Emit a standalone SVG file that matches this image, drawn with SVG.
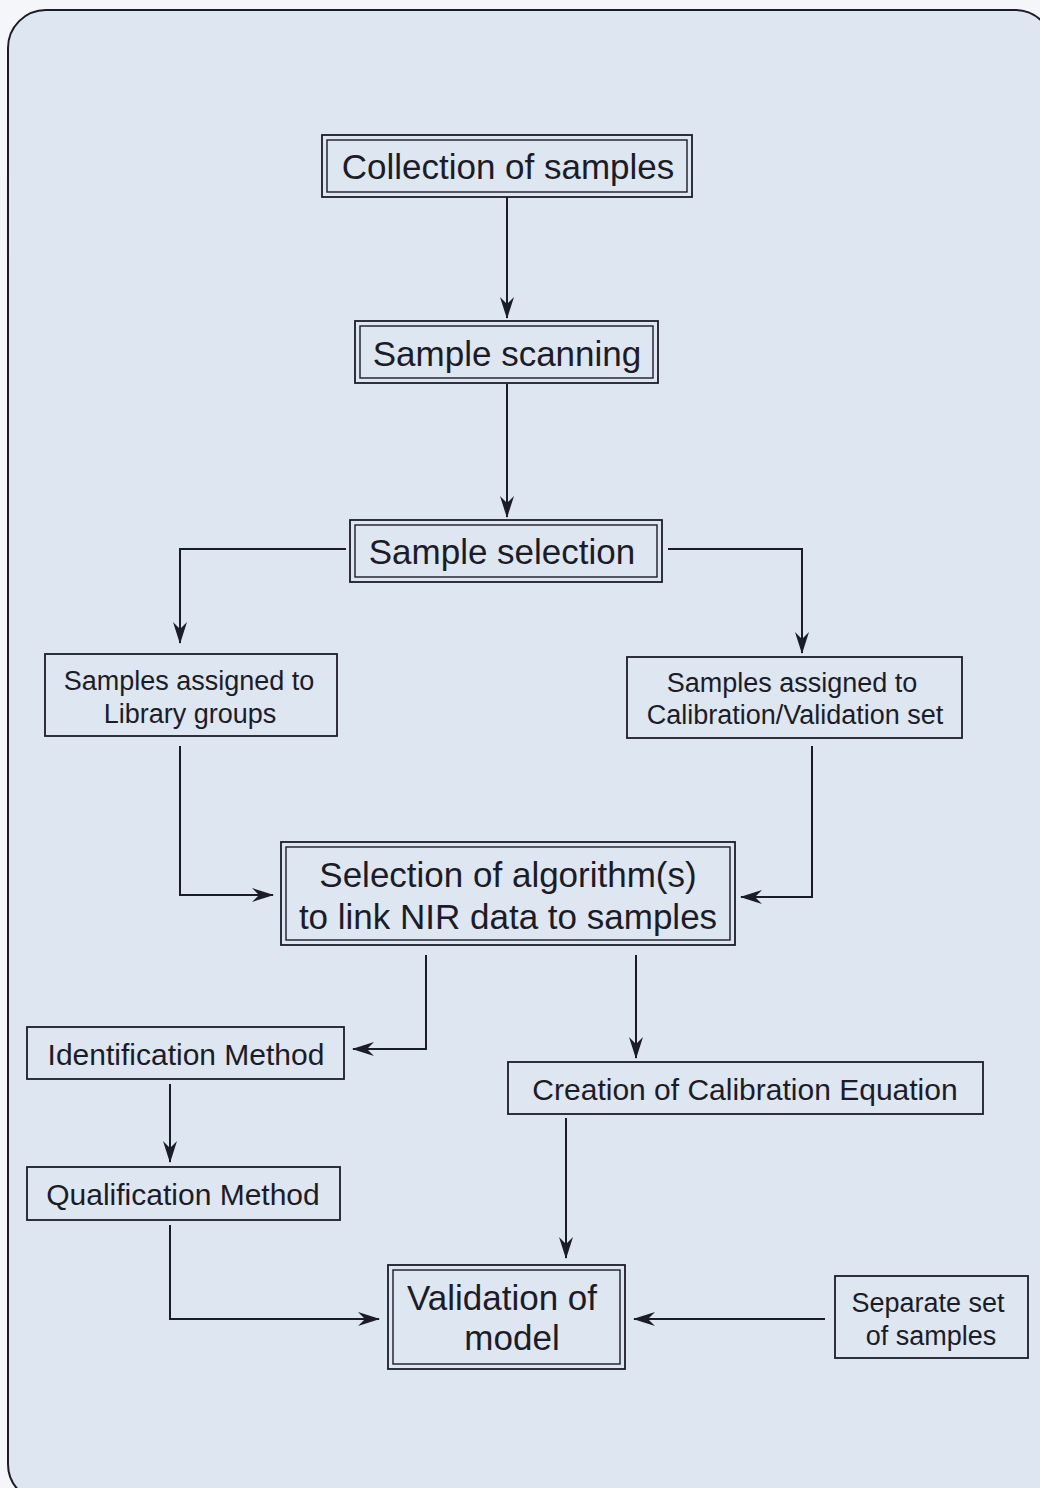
<svg xmlns="http://www.w3.org/2000/svg" width="1040" height="1488" viewBox="0 0 1040 1488">
<style>
.big{font-family:"Liberation Sans",Arial,sans-serif;font-size:35px;fill:#1c1c28;text-anchor:middle}
.mid{font-family:"Liberation Sans",Arial,sans-serif;font-size:30px;fill:#1c1c28;text-anchor:middle}
.sm{font-family:"Liberation Sans",Arial,sans-serif;font-size:27px;fill:#1c1c28;text-anchor:middle}
.box{fill:none;stroke:#1c1c28;stroke-width:1.8}
.in{fill:none;stroke:#1c1c28;stroke-width:1.4}
.con{fill:none;stroke:#1c1c28;stroke-width:2;marker-end:url(#ah)}
</style>
<defs>
<marker id="ah" viewBox="0 0 22 14" refX="21" refY="7" markerWidth="22" markerHeight="14" markerUnits="userSpaceOnUse" orient="auto">
<path d="M0,0 L22,7 L0,14 L7,7 z" fill="#1c1c28"/>
</marker>
</defs>
<rect width="1040" height="1488" fill="#f4f6f9"/>
<rect x="8" y="10" width="1045" height="1492" rx="38" fill="#dde6f1" stroke="#1c1c28" stroke-width="2"/>
<g id="connectors">
<path class="con" d="M507,197 V318"/>
<path class="con" d="M507,384 V517"/>
<path class="con" d="M346,549 H180 V643"/>
<path class="con" d="M668,549 H802 V653"/>
<path class="con" d="M180,746 V895 H273"/>
<path class="con" d="M812,746 V897 H741"/>
<path class="con" d="M426,955 V1049 H353"/>
<path class="con" d="M636,955 V1058"/>
<path class="con" d="M170,1084 V1162"/>
<path class="con" d="M566,1118 V1258"/>
<path class="con" d="M170,1225 V1319 H379"/>
<path class="con" d="M825,1319 H634"/>
</g>
<g id="n1">
<rect class="box" x="322" y="135" width="370" height="62"/>
<rect class="in" x="327" y="140" width="360" height="52"/>
<text class="big" x="508" y="179">Collection of samples</text>
</g>
<g id="n2">
<rect class="box" x="355" y="321" width="303" height="62"/>
<rect class="in" x="360" y="326" width="293" height="52"/>
<text class="big" x="507" y="366">Sample scanning</text>
</g>
<g id="n3">
<rect class="box" x="350" y="520" width="312" height="62"/>
<rect class="in" x="355" y="525" width="302" height="52"/>
<text class="big" x="502" y="564">Sample selection</text>
</g>
<g id="n4">
<rect class="box" x="45" y="654" width="292" height="82"/>
<text class="sm" x="189" y="690">Samples assigned to</text>
<text class="sm" x="190" y="723">Library groups</text>
</g>
<g id="n5">
<rect class="box" x="627" y="657" width="335" height="81"/>
<text class="sm" x="792" y="692">Samples assigned to</text>
<text class="sm" x="795" y="724">Calibration/Validation set</text>
</g>
<g id="n6">
<rect class="box" x="281" y="842" width="454" height="103"/>
<rect class="in" x="286" y="847" width="444" height="93"/>
<text class="big" x="508" y="887">Selection of algorithm(s)</text>
<text class="big" x="508" y="929">to link NIR data to samples</text>
</g>
<g id="n7">
<rect class="box" x="27" y="1027" width="317" height="52"/>
<text class="mid" x="186" y="1065">Identification Method</text>
</g>
<g id="n8">
<rect class="box" x="508" y="1062" width="475" height="52"/>
<text class="mid" x="745" y="1100">Creation of Calibration Equation</text>
</g>
<g id="n9">
<rect class="box" x="27" y="1167" width="313" height="53"/>
<text class="mid" x="183" y="1205">Qualification Method</text>
</g>
<g id="n10">
<rect class="box" x="388" y="1265" width="237" height="104"/>
<rect class="in" x="393" y="1270" width="227" height="94"/>
<text class="big" x="502" y="1310">Validation of</text>
<text class="big" x="512" y="1350">model</text>
</g>
<g id="n11">
<rect class="box" x="835" y="1276" width="193" height="82"/>
<text class="sm" x="928" y="1312">Separate set</text>
<text class="sm" x="931" y="1345">of samples</text>
</g>
</svg>
